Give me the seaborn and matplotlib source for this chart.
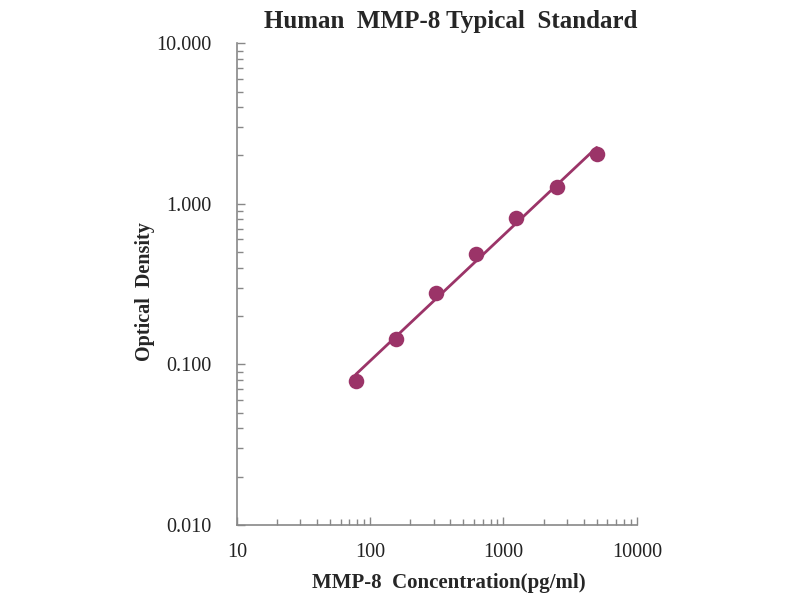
import numpy as np
import matplotlib
matplotlib.use('Agg')
import matplotlib.pyplot as plt
import seaborn as sns
from matplotlib.ticker import FixedLocator, LogLocator, NullFormatter

# standard curve data
concentration = [78.125, 156.25, 312.5, 625, 1250, 2500, 5000]
optical_density = [0.079, 0.144, 0.278, 0.486, 0.815, 1.27, 2.04]

x_ticks = [10, 100, 1000, 10000]
x_tick_labels = ['10', '100', '1000', '10000']
y_ticks = [0.01, 0.1, 1, 10]
y_tick_labels = ['0.010', '0.100', '1.000', '10.000']

color = '#9b3468'

sns.set_style('white')
plt.rcParams['font.family'] = ['Liberation Serif', 'DejaVu Serif']

fig = plt.figure(figsize=(8, 6), dpi=100)
ax = fig.add_axes([0.296, 0.125, 0.5, 0.803])

# power trendline (linear fit in log-log space)
slope, intercept = np.polyfit(np.log10(concentration), np.log10(optical_density), 1)
fit_x = np.array([concentration[0], concentration[-1]])
fit_y = 10 ** (intercept + slope * np.log10(fit_x))
sns.lineplot(x=fit_x, y=fit_y, color=color, linewidth=2, ax=ax)

sns.scatterplot(x=concentration, y=optical_density, color=color, s=125,
                edgecolor=color, linewidth=0, ax=ax, zorder=3)

ax.set_xscale('log')
ax.set_yscale('log')
ax.set_xlim(10, 10000)
ax.set_ylim(0.01, 10)

ax.xaxis.set_major_locator(FixedLocator(x_ticks))
ax.set_xticklabels(x_tick_labels)
ax.yaxis.set_major_locator(FixedLocator(y_ticks))
ax.set_yticklabels(y_tick_labels)
ax.xaxis.set_minor_locator(LogLocator(base=10, subs=np.arange(2, 10)))
ax.yaxis.set_minor_locator(LogLocator(base=10, subs=np.arange(2, 10)))
ax.xaxis.set_minor_formatter(NullFormatter())
ax.yaxis.set_minor_formatter(NullFormatter())

ax.tick_params(axis='both', which='both', direction='in', color='#888888',
               labelsize=14.5, labelcolor='#222222', bottom=True, left=True)
ax.tick_params(axis='both', which='major', length=6, width=1)
ax.tick_params(axis='both', which='minor', length=4, width=1)
ax.tick_params(axis='x', which='major', pad=13)
ax.tick_params(axis='y', which='major', pad=18)

for side in ['top', 'right']:
    ax.spines[side].set_visible(False)
for side in ['left', 'bottom']:
    ax.spines[side].set_color('#888888')
    ax.spines[side].set_linewidth(1.2)

ax.set_title('Human  MMP-8 Typical  Standard', fontsize=18, fontweight='bold',
             pad=11, x=0.535)
ax.set_xlabel('MMP-8  Concentration(pg/ml)', fontsize=15, fontweight='bold',
              labelpad=8, x=0.53)
ax.set_ylabel('Optical  Density', fontsize=14.5, fontweight='bold', labelpad=1,
              y=0.485)

fig.savefig('out.png', dpi=100)
